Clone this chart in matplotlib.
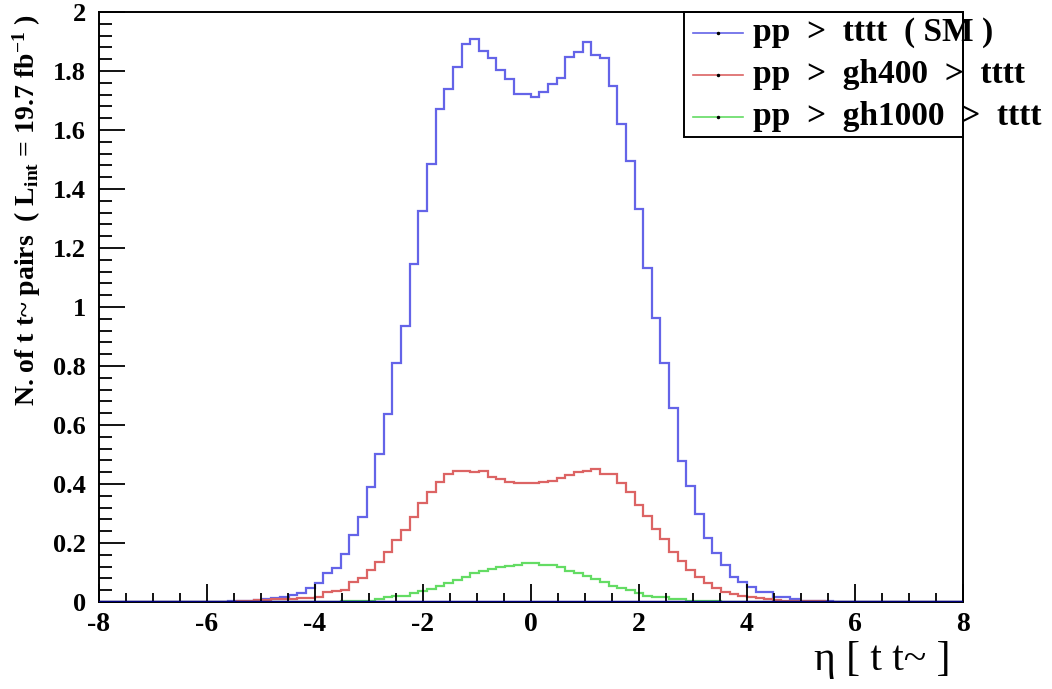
import numpy as np
import matplotlib
matplotlib.use("Agg")
import matplotlib.pyplot as plt
from matplotlib.patches import Rectangle
from matplotlib.lines import Line2D
from matplotlib.ticker import MultipleLocator

# eta of t tbar pairs, 100 bins from -8 to 8
ETA_MIN, ETA_MAX, NBINS = -8, 8, 100

sm_tttt = [0]*15 + [
    0.002, 0.004, 0.005, 0.007, 0.009, 0.013, 0.018, 0.024, 0.032, 0.048,
    0.064, 0.098, 0.114, 0.163, 0.227, 0.289, 0.391, 0.502, 0.636, 0.811,
    0.936, 1.146, 1.327, 1.484, 1.670, 1.739, 1.815, 1.892, 1.907, 1.869,
    1.843, 1.803, 1.772, 1.722, 1.722, 1.712, 1.729, 1.756, 1.777, 1.847,
    1.864, 1.897, 1.853, 1.843, 1.749, 1.619, 1.494, 1.332, 1.131, 0.962,
    0.811, 0.658, 0.477, 0.392, 0.300, 0.216, 0.165, 0.125, 0.086, 0.069,
    0.050, 0.033, 0.033, 0.016, 0.016, 0.010, 0.005, 0.004, 0.003, 0.002,
] + [0]*15

gh400 = [0]*16 + [
    0.004, 0.005, 0.006, 0.008, 0.009, 0.009, 0.010, 0.012, 0.015, 0.018,
    0.033, 0.038, 0.041, 0.067, 0.080, 0.108, 0.137, 0.169, 0.210, 0.244,
    0.289, 0.335, 0.374, 0.406, 0.434, 0.445, 0.445, 0.440, 0.445, 0.423,
    0.417, 0.406, 0.402, 0.402, 0.402, 0.406, 0.411, 0.419, 0.430, 0.440,
    0.445, 0.451, 0.434, 0.434, 0.402, 0.372, 0.329, 0.293, 0.247, 0.214,
    0.171, 0.138, 0.108, 0.084, 0.065, 0.046, 0.035, 0.026, 0.020, 0.016,
    0.012, 0.010, 0.006, 0.005, 0.004, 0.003, 0.002, 0.002,
] + [0]*16

gh1000 = [0]*28 + [
    0.002, 0.002, 0.003, 0.005, 0.010, 0.016, 0.019, 0.022, 0.030, 0.037,
    0.044, 0.055, 0.066, 0.076, 0.086, 0.097, 0.105, 0.112, 0.120, 0.122,
    0.125, 0.131, 0.131, 0.125, 0.124, 0.118, 0.106, 0.099, 0.088, 0.077,
    0.067, 0.054, 0.046, 0.041, 0.029, 0.021, 0.018, 0.016, 0.010, 0.009,
    0.005, 0.003, 0.002, 0.002,
] + [0]*28

labels = ["pp  >  tttt  ( SM )", "pp  >  gh400  >  tttt", "pp  >  gh1000  >  tttt"]
colors = ["#6464e8", "#dc6464", "#64dc64"]
ytick_labels = ["0", "0.2", "0.4", "0.6", "0.8", "1", "1.2", "1.4", "1.6", "1.8", "2"]

plt.rcParams["font.family"] = ["Liberation Serif", "DejaVu Serif"]
plt.rcParams["axes.unicode_minus"] = False
plt.rcParams["mathtext.fontset"] = "custom"
plt.rcParams["mathtext.rm"] = "Liberation Serif:bold"
plt.rcParams["mathtext.it"] = "Liberation Serif:bold"
plt.rcParams["mathtext.bf"] = "Liberation Serif:bold"

W, H = 1052, 689
fig = plt.figure(figsize=(W/100, H/100), dpi=100)
L, R, T, B = 98.6, 963, 12, 602
ax = fig.add_axes([L/W, 1-B/H, (R-L)/W, (B-T)/H])

edges = np.linspace(ETA_MIN, ETA_MAX, NBINS + 1)
for vals, col in zip([sm_tttt, gh400, gh1000], colors):
    ax.stairs(vals, edges, color=col, lw=1.6, baseline=0)
ax.axhline(0, color="#000080", lw=2.5, zorder=3)

ax.set_xlim(ETA_MIN, ETA_MAX)
ax.set_ylim(0, 2)
ax.xaxis.set_major_locator(MultipleLocator(2))
ax.xaxis.set_minor_locator(MultipleLocator(0.5))
ax.yaxis.set_minor_locator(MultipleLocator(0.04))
ax.set_yticks(np.arange(0, 2.01, 0.2))
ax.set_yticklabels(ytick_labels)
ax.tick_params(axis="both", which="both", direction="in", width=1.3, color="black")
ax.tick_params(axis="x", which="major", length=13, pad=7)
ax.tick_params(axis="x", which="minor", length=6.5)
ax.tick_params(axis="y", which="major", length=18.5, pad=9)
ax.tick_params(axis="y", which="minor", length=9)
for lab in ax.get_xticklabels():
    lab.set_fontweight("bold")
    lab.set_fontsize(20)
for lab in ax.get_yticklabels():
    lab.set_fontweight("bold")
    lab.set_fontsize(19)
for s in ax.spines.values():
    s.set_linewidth(1.4)

fig.text(27/W, 1-210/H, r"N. of t t~ pairs  ( L$_{\mathrm{int}}$ = 19.7 fb$^{\mathrm{-1}}$ )",
         rotation=90, ha="center", va="center", fontsize=20, fontweight="bold")
fig.text(950/W, 1-660/H, "η [ t t~ ]", ha="right", va="center", fontsize=30)

# legend box (ROOT style)
fig.patches.append(Rectangle((684/W, 1-137/H), (963-684)/W, (137-12)/H,
                             transform=fig.transFigure, fill=False, ec="black", lw=1.4))
for i, (lab, col) in enumerate(zip(labels, colors)):
    y = 1 - (33 + 42*i)/H
    fig.lines.append(Line2D([693/W, 743/W], [y, y], transform=fig.transFigure, color=col, lw=1.2))
    fig.lines.append(Line2D([718/W], [y], transform=fig.transFigure, color="black",
                            marker="o", ms=1.5, lw=0))
    fig.text(753/W, y, lab, ha="left", va="center", fontsize=24, fontweight="bold")

fig.savefig("out.png", dpi=100)
